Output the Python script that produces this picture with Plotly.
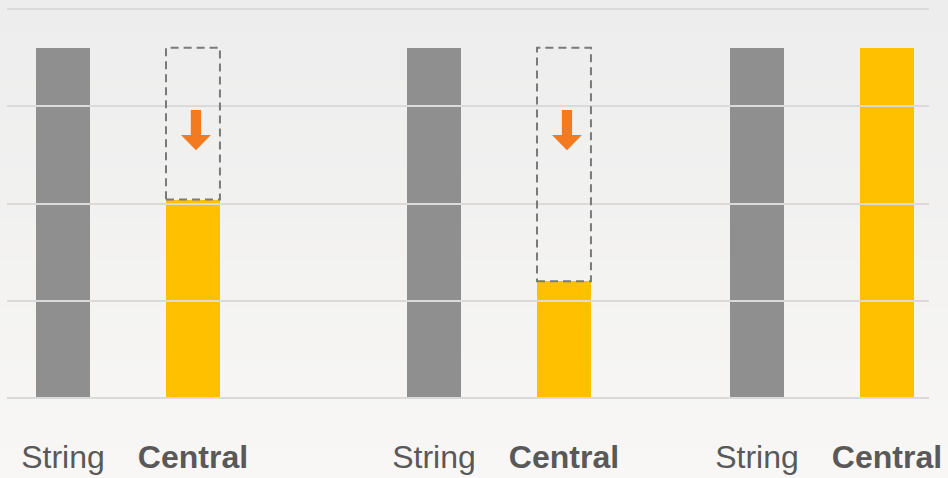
import plotly.graph_objects as go

# Categories and values (gridlines every 25 units)
categories = ["String", "Central"]
tick_labels = ["String", "<b>Central</b>"]
string_values = [90, 90, 90]
central_values = [51, 30, 90]

GRAY = "#8f8f8f"
YELLOW = "#ffc000"
ORANGE = "#f47a20"
DASH = "#7a7a7a"
GRID = "#dadada"
TEXT = "#595959"

W, H = 948, 478
M = dict(l=7, r=19, t=7, b=78)
Y_RANGE = [-0.5, 100.5]

# horizontal placement of each pair of bars
group_domains = [(0.0184, 0.2440), (0.4208, 0.6464), (0.7711, 0.9967)]
BAR_W = 0.415

fig = go.Figure()
shapes = []

# soft vertical background gradient
top_rgb = (237, 237, 237)
bot_rgb = (248, 247, 245)
plot_h = H - M["t"] - M["b"]
plot_w = W - M["l"] - M["r"]
n_bands = 48
for k in range(n_bands):
    f = k / (n_bands - 1)
    col = tuple(round(top_rgb[j] + (bot_rgb[j] - top_rgb[j]) * f) for j in range(3))
    py0 = k * H / n_bands
    py1 = (k + 1) * H / n_bands + 1
    shapes.append(dict(
        type="rect", xref="paper", yref="paper", layer="below",
        x0=-M["l"] / plot_w - 0.01, x1=1 + M["r"] / plot_w + 0.01,
        y0=(H - M["b"] - py1) / plot_h, y1=(H - M["b"] - py0) / plot_h,
        fillcolor="rgb(%d,%d,%d)" % col, line_width=0,
    ))

# full-width axis that carries the horizontal gridlines
fig.add_trace(go.Scatter(x=[], y=[], xaxis="x4", yaxis="y", showlegend=False))

for i, (s, c) in enumerate(zip(string_values, central_values)):
    ax = "" if i == 0 else str(i + 1)
    fig.add_trace(go.Bar(
        x=categories, y=[s, c], width=BAR_W,
        marker=dict(color=[GRAY, YELLOW], line_width=0),
        xaxis="x" + ax, yaxis="y", showlegend=False, hoverinfo="skip",
    ))
    if c < s:
        # dashed outline of the missing part of the Central bar
        shapes.append(dict(
            type="rect", xref="x" + ax, yref="y", layer="above",
            x0=1 - BAR_W / 2, x1=1 + BAR_W / 2, y0=c, y1=s,
            line=dict(color=DASH, width=2, dash="8px,5px"),
            fillcolor="rgba(0,0,0,0)",
        ))
        # downward arrow, slightly right of the bar centre
        cx = 1.023
        top, neck, tip = s - 16, s - 22.4, s - 26.3
        sw, hw = 0.0395, 0.115
        path = (f"M{cx - sw},{top} L{cx + sw},{top} L{cx + sw},{neck} L{cx + hw},{neck} "
                f"L{cx},{tip} L{cx - hw},{neck} L{cx - sw},{neck} Z")
        shapes.append(dict(type="path", xref="x" + ax, yref="y", layer="above",
                           path=path, fillcolor=ORANGE, line_width=0))

xcommon = dict(
    anchor="y", type="category", range=[-0.3, 1.3], fixedrange=True, automargin=False,
    tickmode="array", tickvals=categories, ticktext=tick_labels,
    tickfont=dict(family="Liberation Sans, Arial, sans-serif", size=32, color=TEXT),
    showgrid=False, zeroline=False, showline=False, ticks="",
    ticklabelstandoff=35,
)

fig.update_layout(
    width=W, height=H, margin=M,
    paper_bgcolor="rgba(0,0,0,0)", plot_bgcolor="rgba(0,0,0,0)",
    showlegend=False, bargap=0,
    shapes=shapes,
    xaxis=dict(domain=list(group_domains[0]), **xcommon),
    xaxis2=dict(domain=list(group_domains[1]), **xcommon),
    xaxis3=dict(domain=list(group_domains[2]), **xcommon),
    xaxis4=dict(domain=[0, 1], anchor="y", range=[0, 1], showgrid=False, automargin=False,
                showticklabels=False, zeroline=False, showline=False, fixedrange=True),
    yaxis=dict(domain=[0, 1], range=Y_RANGE, dtick=25, tick0=0, automargin=False,
               showgrid=True, gridcolor=GRID, gridwidth=2,
               showticklabels=False, zeroline=False, showline=False, fixedrange=True),
)

fig.write_html("out.html", config={"displayModeBar": False})
